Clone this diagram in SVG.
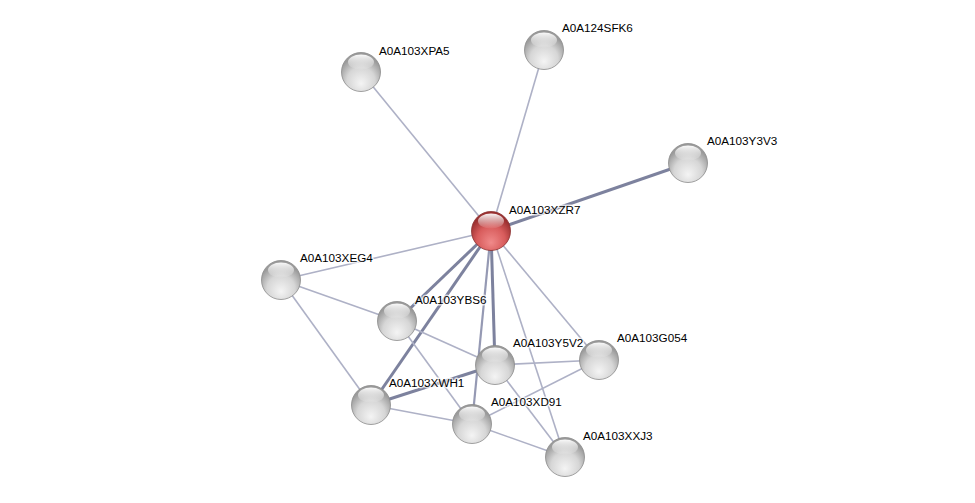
<svg xmlns="http://www.w3.org/2000/svg" width="975" height="503" viewBox="0 0 975 503">
<defs>
<radialGradient id="gGray" cx="50%" cy="70%" r="60%" fx="50%" fy="80%">
<stop offset="0" stop-color="#f4f4f4"/>
<stop offset="0.6" stop-color="#d6d6d6"/>
<stop offset="1" stop-color="#9a9a9a"/>
</radialGradient>
<radialGradient id="gRed" cx="50%" cy="70%" r="60%" fx="50%" fy="80%">
<stop offset="0" stop-color="#f08a8a"/>
<stop offset="0.6" stop-color="#d85c5c"/>
<stop offset="1" stop-color="#9a2f2f"/>
</radialGradient>
<linearGradient id="hl" x1="0" y1="0" x2="0" y2="1">
<stop offset="0" stop-color="#ffffff" stop-opacity="0.95"/>
<stop offset="1" stop-color="#ffffff" stop-opacity="0.05"/>
</linearGradient>
<g id="sphere">
<circle r="19.5" fill="url(#gGray)" stroke="#8a8a8a" stroke-width="0.8"/>
<ellipse cx="0" cy="-10" rx="13" ry="7.5" fill="url(#hl)"/>
</g>
<g id="sphereRed">
<circle r="19.5" fill="url(#gRed)" stroke="#8a3030" stroke-width="0.8"/>
<ellipse cx="0" cy="-10" rx="13" ry="7.5" fill="url(#hl)"/>
</g>
</defs>
<style>
.thin{stroke:#aeb1c6;stroke-width:1.6;fill:none}
.med{stroke:#9599b3;stroke-width:2.2;fill:none}
.thick{stroke:#7d829e;stroke-width:3;fill:none}
.lbl{font-family:"Liberation Sans",Arial,sans-serif;font-size:11.7px;fill:#000;stroke:#ffffff;stroke-width:3;stroke-opacity:0.7;paint-order:stroke;stroke-linejoin:round}
</style>
<rect width="975" height="503" fill="#ffffff"/>
<g id="edges">
<line class="thin" x1="491" y1="231" x2="361" y2="72"/>
<line class="thin" x1="491" y1="231" x2="544" y2="50"/>
<line class="thick" x1="491" y1="231" x2="688" y2="163"/>
<line class="thin" x1="491" y1="231" x2="281" y2="280"/>
<line class="thick" x1="491" y1="231" x2="397" y2="321"/>
<line class="thick" x1="491" y1="231" x2="371" y2="405"/>
<line class="thick" x1="491" y1="231" x2="495" y2="365"/>
<line class="med" x1="491" y1="231" x2="472" y2="424"/>
<line class="thin" x1="491" y1="231" x2="599" y2="360"/>
<line class="thin" x1="491" y1="231" x2="565" y2="457"/>
<line class="thin" x1="281" y1="280" x2="397" y2="321"/>
<line class="thin" x1="281" y1="280" x2="371" y2="405"/>
<line class="thin" x1="397" y1="321" x2="495" y2="365"/>
<line class="thin" x1="397" y1="321" x2="472" y2="424"/>
<line class="thick" x1="495" y1="365" x2="371" y2="405"/>
<line class="thin" x1="495" y1="365" x2="599" y2="360"/>
<line class="thin" x1="495" y1="365" x2="565" y2="457"/>
<line class="thin" x1="371" y1="405" x2="472" y2="424"/>
<line class="thin" x1="472" y1="424" x2="599" y2="360"/>
<line class="thin" x1="472" y1="424" x2="565" y2="457"/>
</g>
<g id="n_XPA5"><use href="#sphere" x="361" y="72"/><text class="lbl" x="379" y="55">A0A103XPA5</text></g>
<g id="n_124SFK6"><use href="#sphere" x="544" y="50"/><text class="lbl" x="562" y="32">A0A124SFK6</text></g>
<g id="n_Y3V3"><use href="#sphere" x="688" y="163"/><text class="lbl" x="707" y="145">A0A103Y3V3</text></g>
<g id="n_XEG4"><use href="#sphere" x="281" y="280"/><text class="lbl" x="300" y="262">A0A103XEG4</text></g>
<g id="n_YBS6"><use href="#sphere" x="397" y="321"/><text class="lbl" x="415" y="304">A0A103YBS6</text></g>
<g id="n_Y5V2"><use href="#sphere" x="495" y="365"/><text class="lbl" x="513" y="347">A0A103Y5V2</text></g>
<g id="n_G054"><use href="#sphere" x="599" y="360"/><text class="lbl" x="617" y="342">A0A103G054</text></g>
<g id="n_XWH1"><use href="#sphere" x="371" y="405"/><text class="lbl" x="389" y="387">A0A103XWH1</text></g>
<g id="n_XD91"><use href="#sphere" x="472" y="424"/><text class="lbl" x="491" y="406">A0A103XD91</text></g>
<g id="n_XXJ3"><use href="#sphere" x="565" y="457"/><text class="lbl" x="583" y="440">A0A103XXJ3</text></g>
<g id="n_XZR7"><use href="#sphereRed" x="491" y="231"/><text class="lbl" x="509" y="214">A0A103XZR7</text></g>
</svg>
